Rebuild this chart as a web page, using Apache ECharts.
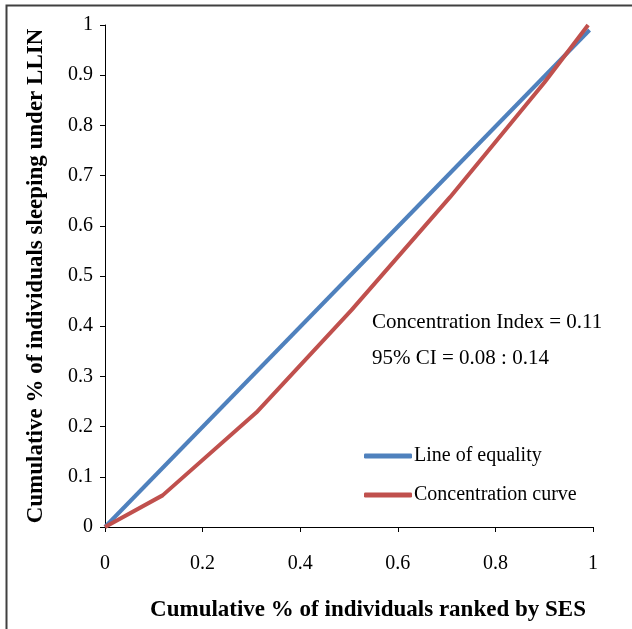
<!DOCTYPE html>
<html>
<head>
<meta charset="utf-8">
<script src="https://cdn.jsdelivr.net/npm/echarts@6/dist/echarts.min.js"></script>
<style>
  html, body { margin: 0; padding: 0; background: #fff; }
  #chart { width: 632px; height: 629px; }
</style>
</head>
<body>
<div id="chart"></div>
<script>
// cumulative share of individuals ranked by SES (x) vs share sleeping under LLIN (y)
var equalityPoints = [[0, 0], [0.993, 0.99]];
var concentrationPoints = [
    [0, 0], [0.118, 0.063], [0.31, 0.228], [0.505, 0.432],
    [0.707, 0.657], [0.9, 0.885], [0.99, 1.0]
];
var seriesNames = ['Line of equality', 'Concentration curve'];
var noteLines = ['Concentration Index = 0.11', '95% CI = 0.08 : 0.14'];
var xTitle = 'Cumulative % of individuals ranked by SES';
var yTitle = 'Cumulative % of individuals sleeping under LLIN';

var font = '"Liberation Serif", "Times New Roman", serif';
var chart = echarts.init(document.getElementById('chart'));

var axisCommon = {
    type: 'value',
    min: 0,
    max: 1,
    nameLocation: 'middle',
    nameTextStyle: { fontFamily: font, fontWeight: 'bold', fontSize: 23, color: '#000' },
    axisLine: { show: true, lineStyle: { color: '#000', width: 1 } },
    axisTick: { show: true, inside: false, length: 5, lineStyle: { color: '#000' } },
    axisLabel: { fontFamily: font, fontSize: 20, color: '#000' },
    splitLine: { show: false }
};

var option = {
    animation: false,
    grid: { left: 105, right: 39, top: 25, bottom: 102, containLabel: false },
    xAxis: Object.assign({}, axisCommon, {
        interval: 0.2,
        name: xTitle,
        nameGap: 72,
        nameTextStyle: Object.assign({}, axisCommon.nameTextStyle, { padding: [0, 0, 0, 38] }),
        axisLabel: Object.assign({}, axisCommon.axisLabel, { margin: 27 })
    }),
    yAxis: Object.assign({}, axisCommon, {
        interval: 0.1,
        name: yTitle,
        nameGap: 57,
        nameRotate: 90,
        axisLabel: Object.assign({}, axisCommon.axisLabel, { margin: 12 })
    }),
    legend: {
        orient: 'vertical',
        left: 359,
        top: 441,
        itemWidth: 48,
        itemHeight: 5,
        itemGap: 19,
        icon: 'roundRect',
        textStyle: { fontFamily: font, fontSize: 20, color: '#000', padding: [0, 0, 0, -3] },
        data: seriesNames
    },
    series: [
        {
            name: seriesNames[0],
            type: 'line',
            data: equalityPoints,
            showSymbol: false,
            lineStyle: { color: '#4F81BD', width: 4 },
            itemStyle: { color: '#4F81BD' }
        },
        {
            name: seriesNames[1],
            type: 'line',
            data: concentrationPoints,
            showSymbol: false,
            lineStyle: { color: '#C0504D', width: 4 },
            itemStyle: { color: '#C0504D' }
        }
    ],
    graphic: [
        {
            type: 'rect',
            shape: { x: 6.5, y: 5.5, width: 700, height: 700 },
            style: { fill: 'none', stroke: '#404040', lineWidth: 2 },
            silent: true
        },
        {
            type: 'text',
            left: 372,
            top: 312,
            style: { text: noteLines[0], font: '21px ' + font, fill: '#000' }
        },
        {
            type: 'text',
            left: 372,
            top: 348,
            style: { text: noteLines[1], font: '21px ' + font, fill: '#000' }
        }
    ]
};

chart.setOption(option);
</script>
</body>
</html>
